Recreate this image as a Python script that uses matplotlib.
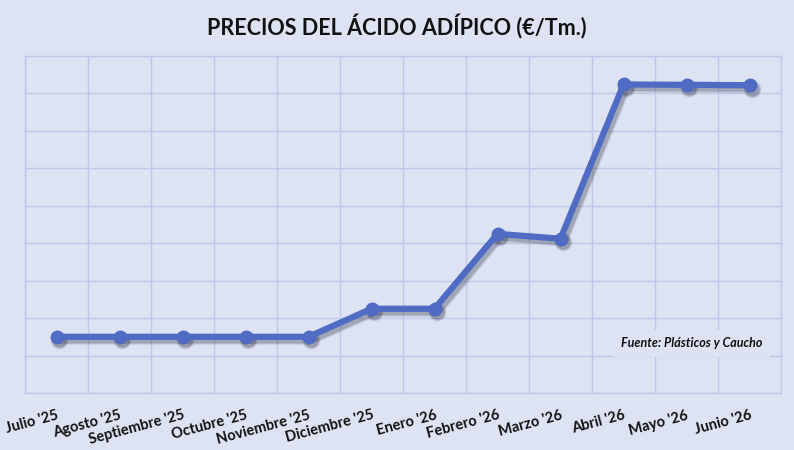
import matplotlib
matplotlib.use("Agg")
import matplotlib.pyplot as plt
import matplotlib.transforms as mtransforms
import numpy as np

months = ["Julio '25", "Agosto '25", "Septiembre '25", "Octubre '25", "Noviembre '25",
          "Diciembre '25", "Enero '26", "Febrero '26", "Marzo '26", "Abril '26",
          "Mayo '26", "Junio '26"]
prices = [1150, 1150, 1150, 1150, 1150, 1225, 1225, 1425, 1412, 1824, 1823, 1822]
y_min, y_max, y_step = 1000, 1900, 100

BG = "#DDE3F3"
GRID = "#BDC9E8"
LINE = "#4F6BC4"

plt.rcParams['font.family'] = ['Lato', 'DejaVu Sans']

fig = plt.figure(figsize=(7.94, 4.5), dpi=100, facecolor=BG)
ax = fig.add_axes([25/794, 1-393/450, 756/794, 337/450])
ax.set_facecolor(BG)

x = np.arange(len(months))
shadow_tr = ax.transData + mtransforms.ScaledTranslation(2/72, -2.5/72, fig.dpi_scale_trans)
for lw, ms, a in [(7, 12, 0.08), (5.5, 10.5, 0.12), (4.5, 9, 0.18)]:
    ax.plot(x, prices, color='#303040', lw=lw, marker='o', ms=ms, alpha=a,
            transform=shadow_tr, zorder=2, solid_capstyle='round')
ax.plot(x, prices, color=LINE, lw=4.5, marker='o', ms=9, solid_capstyle='round', zorder=3)

ax.set_xlim(-0.5, len(months) - 0.5)
ax.set_ylim(y_min, y_max)
ax.set_yticks(np.arange(y_min, y_max + 1, y_step))
ax.set_yticklabels([])
ax.set_xticks(x)
ax.set_xticks(np.arange(-0.5, len(months), 1), minor=True)
ax.set_xticklabels(months, rotation=15, ha='right', va='top', rotation_mode='anchor',
                   fontsize=10.5, fontweight='bold', color='#111111')
ax.tick_params(axis='both', which='both', length=0)
ax.tick_params(axis='x', which='major', pad=11)
ax.grid(True, axis='y', which='major', color=GRID, lw=1)
ax.grid(True, axis='x', which='minor', color=GRID, lw=1)
ax.grid(False, axis='x', which='major')
ax.set_axisbelow(True)
for s in ax.spines.values():
    s.set_color(GRID)
    s.set_linewidth(1)

fig.text(0.5, 1-27/450, "PRECIOS DEL ÁCIDO ADÍPICO (€/Tm.)", ha='center', va='center',
         fontsize=15.5, fontweight='bold', color='#111111')

ax.text(0.975, 0.148, "Fuente: Plásticos y Caucho", transform=ax.transAxes, ha='right',
        va='center', fontsize=9, fontweight='bold', style='italic', color='#111111',
        bbox=dict(boxstyle='square,pad=0.6', fc=BG, ec='none'), zorder=4)

fig.savefig("out.png", dpi=100, facecolor=BG)
